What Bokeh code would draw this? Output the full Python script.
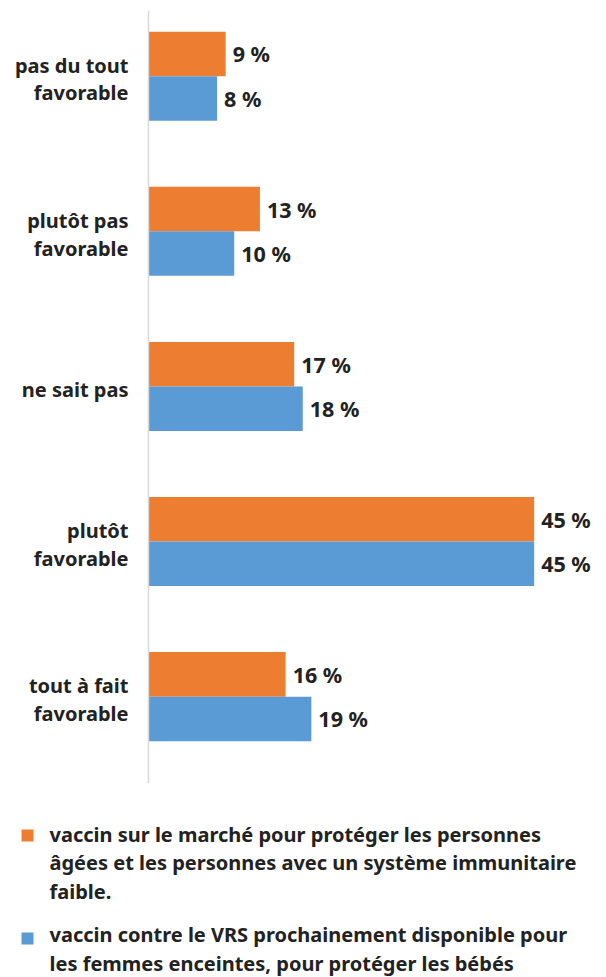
from bokeh.plotting import figure
from bokeh.layouts import column
from bokeh.models import Range1d, ColumnDataSource, Span
from bokeh.core.properties import value
from bokeh.embed import file_html
from bokeh.resources import INLINE

categories = ["pas du tout\nfavorable", "plutôt pas\nfavorable", "ne sait pas",
              "plutôt\nfavorable", "tout à fait\nfavorable"]
series_orange = [9, 13, 17, 45, 16]
series_blue = [8, 10, 18, 45, 19]
legend_labels = [
    "vaccin sur le marché pour protéger les personnes\nâgées et les personnes avec un système immunitaire\nfaible.",
    "vaccin contre le VRS prochainement disponible pour\nles femmes enceintes, pour protéger les bébés",
]

ORANGE = "#ED7D31"
BLUE = "#5B9BD5"
TEXT = "#222222"
FONT = "Noto Sans"
FSIZE = "20px"
BAR_H = 0.287

pos = list(range(len(categories)))
src = ColumnDataSource(dict(
    y=pos,
    y_or=[i - BAR_H / 2 for i in pos],
    y_bl=[i + BAR_H / 2 for i in pos],
    orange=series_orange,
    blue=series_blue,
    lab_or=[f"{v} %" for v in series_orange],
    lab_bl=[f"{v} %" for v in series_blue],
    cat=categories,
    zero=[0] * len(pos),
))

p = figure(width=606, height=783, output_backend="svg", toolbar_location=None,
           x_range=Range1d(-17.27, 53.44), y_range=Range1d(4.56, -0.4235),
           min_border_left=0, min_border_right=0, min_border_top=10, min_border_bottom=0)
p.outline_line_color = None
p.grid.visible = False
p.axis.visible = False

p.add_layout(Span(location=0, dimension="height", line_color="#d9d9d9", line_width=1.5))

p.hbar(y="y_or", left=0, right="orange", height=BAR_H, source=src,
       fill_color=ORANGE, line_color=None)
p.hbar(y="y_bl", left=0, right="blue", height=BAR_H, source=src,
       fill_color=BLUE, line_color=None)

common = dict(text_font=value(FONT), text_font_style="bold", text_font_size=FSIZE,
              text_color=TEXT)
vcommon = dict(common, text_font_size="21.5px")
p.text(x="orange", y="y_or", text="lab_or", source=src, x_offset=7,
       text_baseline="middle", text_align="left", **vcommon)
p.text(x="blue", y="y_bl", text="lab_bl", source=src, x_offset=7,
       text_baseline="middle", text_align="left", **vcommon)
p.text(x="zero", y="y", text="cat", source=src, x_offset=-20, y_offset=3,
       text_baseline="middle", text_align="right", text_line_height=1.02, **common)

# legend
lg = figure(width=606, height=193, output_backend="svg", toolbar_location=None,
            x_range=Range1d(0, 606), y_range=Range1d(193, 0), min_border=0)
lg.outline_line_color = None
lg.grid.visible = False
lg.axis.visible = False
lsrc = ColumnDataSource(dict(
    x=[27, 27], y=[52, 155], color=[ORANGE, BLUE],
    tx=[49, 49], ty=[79.5, 165.5], text=legend_labels,
))
lg.rect(x="x", y="y", width=12, height=12, fill_color="color", line_color=None, source=lsrc)
lg.text(x="tx", y="ty", text="text", source=lsrc, text_baseline="middle",
        text_align="left", text_line_height=1.04, **common)

layout = column(p, lg, spacing=0)
open("out.html", "w").write(file_html(layout, INLINE))
